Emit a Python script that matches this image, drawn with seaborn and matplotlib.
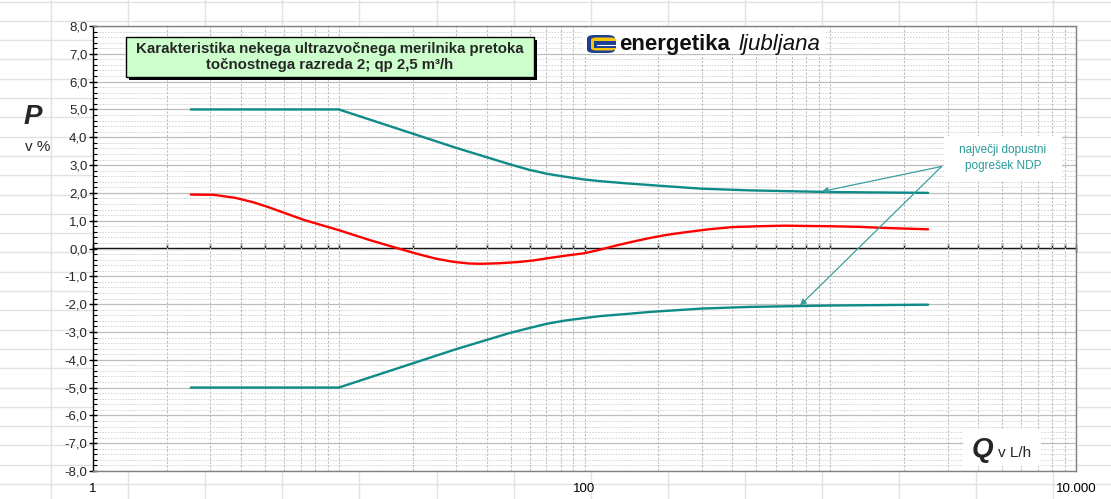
import numpy as np
import pandas as pd
import seaborn as sns
import matplotlib.pyplot as plt
from matplotlib.ticker import FixedLocator, MultipleLocator, FuncFormatter, LogLocator, NullFormatter
from matplotlib.patches import Rectangle, FancyBboxPatch
from matplotlib.lines import Line2D

# največji dopustni pogrešek (NDP), pretok v L/h
q_ndp = [2.5, 10, 20, 30, 50, 59, 70, 82, 100, 116, 150, 185, 300, 470, 1000, 2500]
ndp_zgoraj = [5.0, 5.0, 4.13, 3.62, 3.02, 2.84, 2.69, 2.59, 2.48, 2.42, 2.34, 2.28,
              2.15, 2.09, 2.03, 2.0]
ndp_spodaj = [-5.0, -5.0, -4.13, -3.62, -3.03, -2.87, -2.71, -2.6, -2.5, -2.43, -2.35,
              -2.28, -2.16, -2.1, -2.05, -2.02]

# izmerjena karakteristika merilnika
q_meritev = [2.5, 3.1, 3.8, 4.5, 5.2, 6.1, 7.2, 10, 13.4, 18.3, 21.4, 25, 29.3, 34, 38,
             45, 53, 62, 72, 85, 100, 116, 135, 158, 185, 216, 250, 320, 400, 510, 650,
             1000, 1300, 1650, 2500]
pogresek = [1.94, 1.93, 1.82, 1.66, 1.48, 1.26, 1.03, 0.66, 0.3, -0.05, -0.22, -0.37,
            -0.48, -0.54, -0.55, -0.53, -0.49, -0.43, -0.34, -0.25, -0.17, -0.04, 0.11,
            0.25, 0.38, 0.49, 0.57, 0.69, 0.77, 0.8, 0.82, 0.8, 0.78, 0.74, 0.69]

x_ticks = [1, 100, 10000]
x_tick_labels = ["1", "100", "10.000"]

df_ndp = pd.DataFrame({"Q": q_ndp, "zgoraj": ndp_zgoraj, "spodaj": ndp_spodaj})
df_mer = pd.DataFrame({"Q": q_meritev, "P": pogresek})

sns.set_style("white")
plt.rcParams['font.family'] = ['Liberation Sans', 'DejaVu Sans']

W, H = 1111, 499
fig = plt.figure(figsize=(W / 100, H / 100), dpi=100)


def fx(px):
    return px / W


def fy(py):
    return 1 - py / H


# spreadsheet cells behind the chart
for k in range(-1, 15):
    fig.add_artist(Line2D([fx(51 + 77.1 * k)] * 2, [0, 1], color='#E2E2E2', lw=1, zorder=-1))
for k in range(0, 27):
    fig.add_artist(Line2D([0, 1], [fy(1.5 + 19.3 * k)] * 2, color='#E2E2E2', lw=1, zorder=-1))

ax = fig.add_axes([fx(93), fy(471), fx(1076 - 93), (471 - 26) / H])
ax.set_facecolor('white')

teal = '#0E8A88'
sns.lineplot(data=df_ndp, x="Q", y="zgoraj", ax=ax, color=teal, lw=1.7, errorbar=None)
sns.lineplot(data=df_ndp, x="Q", y="spodaj", ax=ax, color=teal, lw=1.7, errorbar=None)
sns.lineplot(data=df_mer, x="Q", y="P", ax=ax, color='#FF0000', lw=1.7, errorbar=None)

ax.set_xscale('log')
ax.set_xlim(1, 10000)
ax.set_ylim(-8, 8)
ax.set_xlabel("")
ax.set_ylabel("")

ax.xaxis.set_major_locator(FixedLocator(x_ticks))
ax.set_xticklabels(x_tick_labels)
ax.xaxis.set_minor_locator(LogLocator(base=10, subs=np.arange(1, 10), numticks=30))
ax.xaxis.set_minor_formatter(NullFormatter())
ax.tick_params(axis='x', which='both', length=0, pad=9, labelsize=9.5, colors='black')

ax.yaxis.set_major_locator(MultipleLocator(1))
ax.yaxis.set_minor_locator(MultipleLocator(0.2))
ax.yaxis.set_major_formatter(FuncFormatter(lambda v, p: f"{v:.1f}".replace('.', ',')))
ax.tick_params(axis='y', which='major', left=True, direction='inout', length=6, width=1,
               pad=1, labelsize=9.5, color='black')
ax.tick_params(axis='y', which='minor', left=True, direction='in', length=3, width=0.8, color='black')

ax.set_axisbelow(True)
ax.grid(which='major', axis='y', color='#BDBDBD', lw=0.9, ls='-')
ax.grid(which='minor', axis='y', color='#CFCFCF', lw=0.6, ls=(0, (2, 1.5)))
ax.grid(which='both', axis='x', color='#BDBDBD', lw=0.8, ls=(0, (2, 1.5)))

for s in ['top', 'right', 'bottom']:
    ax.spines[s].set_color('#808080')
    ax.spines[s].set_linewidth(1)
ax.spines['left'].set_color('black')
ax.spines['left'].set_linewidth(1)

# os Q skozi 0
sec = ax.secondary_xaxis(0.5)
sec.xaxis.set_major_locator(FixedLocator(x_ticks))
sec.xaxis.set_minor_locator(LogLocator(base=10, subs=np.arange(1, 10), numticks=30))
sec.xaxis.set_minor_formatter(NullFormatter())
sec.tick_params(which='both', labeltop=False, labelbottom=False, color='black')
sec.tick_params(which='major', direction='inout', length=6, width=1)
sec.tick_params(which='minor', direction='out', length=3.5, width=1)
for s in sec.spines.values():
    s.set_color('black')
    s.set_linewidth(1)

# puscici NDP
arrow_col = '#3A9E9E'
for xy in [(923, 2.05), (753, -2.05)]:
    ax.annotate("", xy=xy, xytext=(2840, 2.95), textcoords='data',
                arrowprops=dict(arrowstyle='-|>', color=arrow_col, lw=0.9,
                                mutation_scale=9, shrinkA=0, shrinkB=0))

# naslov z zelenim okvirjem in senco
fig.add_artist(Rectangle((fx(129), fy(80)), fx(408), 40 / H, facecolor='black',
                         edgecolor='none', zorder=2))
fig.add_artist(Rectangle((fx(126), fy(77)), fx(408), 40 / H, facecolor='#CCFFCC',
                         edgecolor='black', lw=1, zorder=3))
fig.text(fx(330), fy(57), "Karakteristika nekega ultrazvočnega merilnika pretoka\n"
         "točnostnega razreda 2; qp 2,5 m³/h", ha='center', va='center',
         fontsize=10.8, fontweight='bold', linespacing=1.1, zorder=4)

# logotip
fig.add_artist(Rectangle((fx(583), fy(54)), fx(243), 26 / H, facecolor='white',
                         edgecolor='none', zorder=2))
navy = '#1C3F94'
fig.add_artist(FancyBboxPatch((fx(587), fy(53)), fx(28), 18 / H,
                              boxstyle="round,pad=0,rounding_size=0.007",
                              facecolor=navy, edgecolor='none', zorder=3))
fig.add_artist(FancyBboxPatch((fx(591), fy(50.5)), fx(25), 13 / H,
                              boxstyle="round,pad=0,rounding_size=0.005",
                              facecolor='#F7C600', edgecolor='none', zorder=4))
fig.add_artist(Rectangle((fx(594), fy(47.5)), fx(22), 6 / H, facecolor=navy,
                         edgecolor='none', zorder=5))
fig.add_artist(Line2D([fx(597), fx(616)], [fy(44.5)] * 2, color='white', lw=0.8, zorder=6))
fig.text(fx(619), fy(50), "energetika", fontsize=16, fontweight='bold', color='#111111',
         ha='left', va='baseline', zorder=4)
fig.text(fx(739), fy(50), "ljubljana", fontsize=16, style='italic', color='#111111',
         ha='left', va='baseline', zorder=4)

# oznake osi
fig.text(fx(33), fy(117), "P", fontsize=20, fontweight='bold', style='italic',
         ha='center', va='center')
fig.text(fx(38), fy(147), "v %", fontsize=11, ha='center', va='center')

fig.add_artist(Rectangle((fx(963), fy(466)), fx(78), 36 / H, facecolor='white',
                         edgecolor='none', zorder=2))
fig.text(fx(982), fy(457), "Q", fontsize=20, fontweight='bold', style='italic',
         ha='center', va='baseline', zorder=3)
fig.text(fx(998), fy(457), "v L/h", fontsize=11, ha='left', va='baseline', zorder=3)

# opis NDP
fig.add_artist(Rectangle((fx(944), fy(180)), fx(118), 44 / H, facecolor='white',
                         edgecolor='none', zorder=2))
fig.text(fx(1003), fy(158), "največji dopustni\npogrešek NDP", fontsize=8.5,
         color='#2A9A9A', ha='center', va='center', linespacing=1.35, zorder=3)

fig.savefig("out.png", dpi=100)
